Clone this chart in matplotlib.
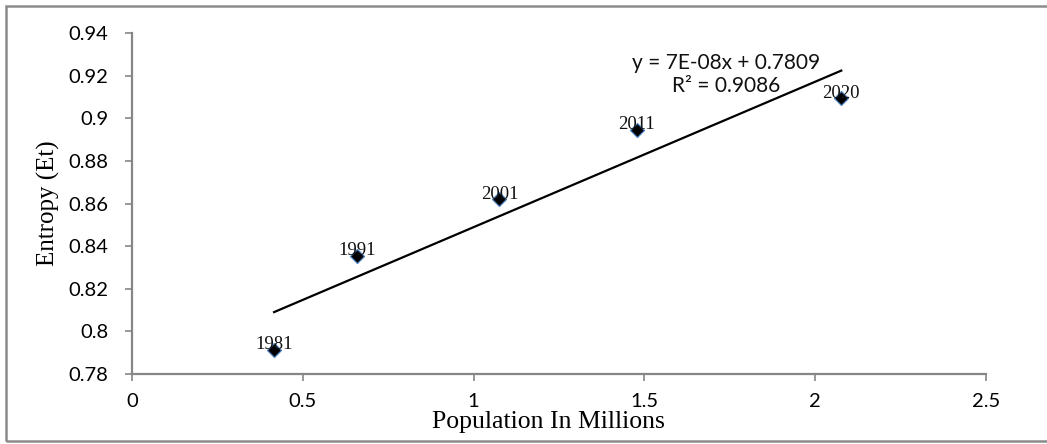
import numpy as np
import matplotlib
matplotlib.use("Agg")
import matplotlib.pyplot as plt
from matplotlib.patches import Rectangle

# population (millions) vs entropy
years = ["1981", "1991", "2001", "2011", "2020"]
population = [0.416, 0.659, 1.076, 1.478, 2.077]
entropy = [0.7913, 0.8354, 0.8620, 0.8946, 0.9096]

x_ticks = [0, 0.5, 1, 1.5, 2, 2.5]
x_tick_labels = ["0", "0.5", "1", "1.5", "2", "2.5"]
y_ticks = [0.78, 0.80, 0.82, 0.84, 0.86, 0.88, 0.90, 0.92, 0.94]
y_tick_labels = ["0.78", "0.8", "0.82", "0.84", "0.86", "0.88", "0.9", "0.92", "0.94"]

equation = "y = 7E-08x + 0.7809\nR\u00b2 = 0.9086"

GRAY = "#868686"
SANS = ["Lato", "DejaVu Sans"]
SERIF = ["Liberation Serif", "DejaVu Serif"]

fig = plt.figure(figsize=(10.47, 4.44), dpi=100)
ax = fig.add_axes([0.1261, 0.1577, 0.8154, 0.7673])

# linear trendline through the points
slope, icpt = np.polyfit(population, entropy, 1)
xs = np.array([min(population), max(population)])
ax.plot(xs, slope * xs + icpt, color="black", lw=1.6, zorder=2)

ax.plot(population, entropy, ls="none", marker="D", ms=7.5,
        mfc="black", mec="#4a7ebb", mew=0.9, zorder=3)
for yr, px, py in zip(years, population, entropy):
    ax.annotate(yr, (px, py), xytext=(0, -2.5), textcoords="offset points",
                ha="center", va="bottom", fontsize=13.5, family=SERIF,
                color="#111111", zorder=4)

ax.text(1.741, 0.9206, equation, ha="center", va="center",
        multialignment="center", fontsize=15, family=SANS, color="#111111",
        linespacing=1.2)

ax.set_xlim(0, 2.5)
ax.set_ylim(0.78, 0.94)
ax.set_xticks(x_ticks)
ax.set_xticklabels(x_tick_labels, family=SANS, fontsize=14.5)
ax.set_yticks(y_ticks)
ax.set_yticklabels(y_tick_labels, family=SANS, fontsize=14.5)
ax.tick_params(direction="out", length=5, width=1.2, color=GRAY, pad=9)
ax.tick_params(axis="y", pad=12)
for side in ("top", "right"):
    ax.spines[side].set_visible(False)
for side in ("left", "bottom"):
    ax.spines[side].set_color(GRAY)
    ax.spines[side].set_linewidth(1.6)

ax.set_xlabel("Population In Millions", family=SERIF, fontsize=18.5)
ax.xaxis.set_label_coords(0.488, -0.108)
ax.set_ylabel("Entropy (Et)", family=SERIF, fontsize=18, labelpad=6)

# outer chart frame
fig.patches.append(Rectangle((6 / 1047, 3 / 444), 1.2, 435 / 444,
                             transform=fig.transFigure, fill=False,
                             ec="#8c8c8c", lw=1.8))

fig.savefig("out.png", dpi=100)
